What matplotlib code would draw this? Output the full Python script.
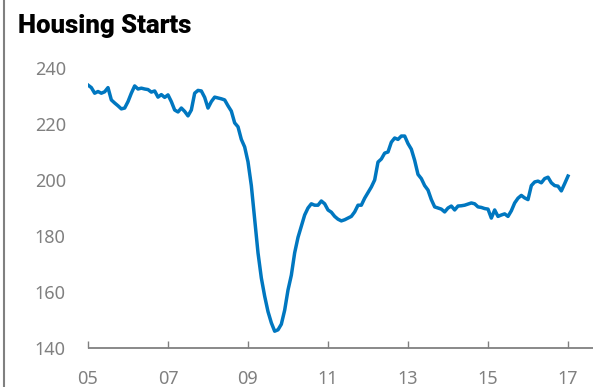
import matplotlib
matplotlib.use('Agg')
import numpy as np
import matplotlib.pyplot as plt
from matplotlib.lines import Line2D

# Housing starts, monthly, Jan 2005 - Jan 2017
valores = [
    # 2005
    233.9, 233.0, 231.0, 231.6, 231.0, 231.5, 233.0, 228.6, 227.5, 226.5, 225.4, 225.7,
    # 2006
    228.0, 231.0, 233.6, 232.5, 232.8, 232.5, 232.3, 231.4, 231.8, 229.6, 230.5, 229.5,
    # 2007
    230.4, 228.0, 225.0, 224.3, 225.7, 224.5, 222.9, 225.0, 231.0, 232.0, 231.8, 229.5,
    # 2008
    225.7, 228.0, 229.6, 229.3, 229.0, 228.6, 226.5, 224.6, 220.4, 219.0, 214.5, 211.8,
    # 2009
    206.5, 198.0, 186.0, 174.0, 165.0, 158.5, 153.0, 149.0, 146.0, 146.5, 148.5, 153.5,
    # 2010
    160.7, 166.0, 174.0, 179.5, 183.5, 187.5, 190.0, 191.5, 191.0, 191.0, 192.5, 191.5,
    # 2011
    189.3, 188.5, 187.0, 186.0, 185.4, 185.8, 186.4, 187.0, 188.6, 191.0, 191.0, 193.5,
    # 2012
    195.5, 197.5, 200.0, 206.4, 207.5, 209.6, 210.0, 213.5, 215.0, 214.5, 215.7, 215.7,
    # 2013
    213.0, 211.0, 207.0, 202.0, 200.5, 198.0, 196.4, 193.0, 190.4, 190.0, 189.6, 188.6,
    # 2014
    190.0, 190.7, 189.3, 190.7, 190.8, 191.0, 191.4, 191.8, 191.5, 190.4, 190.2, 189.8,
    # 2015
    189.6, 186.4, 189.3, 187.0, 187.5, 187.9, 187.0, 189.0, 191.8, 193.5, 194.5, 193.6,
    # 2016
    193.0, 198.0, 199.3, 199.6, 199.0, 200.5, 201.0, 199.0, 198.0, 197.8, 196.1, 198.7,
    # 2017
    201.4,
]
fechas = 2005 + np.arange(len(valores)) / 12.0

anios_ticks = [2005, 2007, 2009, 2011, 2013, 2015, 2017]
etiquetas_x = ['05', '07', '09', '11', '13', '15', '17']
ticks_y = [140, 160, 180, 200, 220, 240]

gris = '#808080'
azul = '#0077c0'

fig = plt.figure(figsize=(5.99, 3.87), dpi=100)
ax = fig.add_axes([88 / 599, 39 / 387, 505 / 599, 294 / 387])

ax.plot(fechas, valores, color=azul, linewidth=2.5, solid_joinstyle='round')

ax.set_xlim(2005, 2005 + 505 / 40)
ax.set_ylim(140, 245)

for lado in ['top', 'right', 'left']:
    ax.spines[lado].set_visible(False)
ax.spines['bottom'].set_color(gris)
ax.spines['bottom'].set_linewidth(1.3)
ax.spines['bottom'].set_capstyle('butt')

ax.set_xticks(anios_ticks)
ax.set_xticklabels(etiquetas_x)
ax.set_yticks(ticks_y)
ax.tick_params(axis='x', direction='in', length=5, width=1.0, color=gris,
               labelcolor=gris, labelsize=13, pad=16)
ax.tick_params(axis='y', length=0, labelcolor=gris, labelsize=13, pad=16)
for t in ax.get_xticklabels() + ax.get_yticklabels():
    t.set_family('Noto Sans')

# linea vertical a la izquierda
fig.add_artist(Line2D([3.5 / 599, 3.5 / 599], [0, 1], color=gris, linewidth=1.5))

fig.text(18 / 599, 1 - 26 / 387, 'Housing Starts', fontsize=18.5, fontweight='black',
         family=['Roboto', 'DejaVu Sans'], color='black', va='center', ha='left')

fig.savefig('out.png', dpi=100)
